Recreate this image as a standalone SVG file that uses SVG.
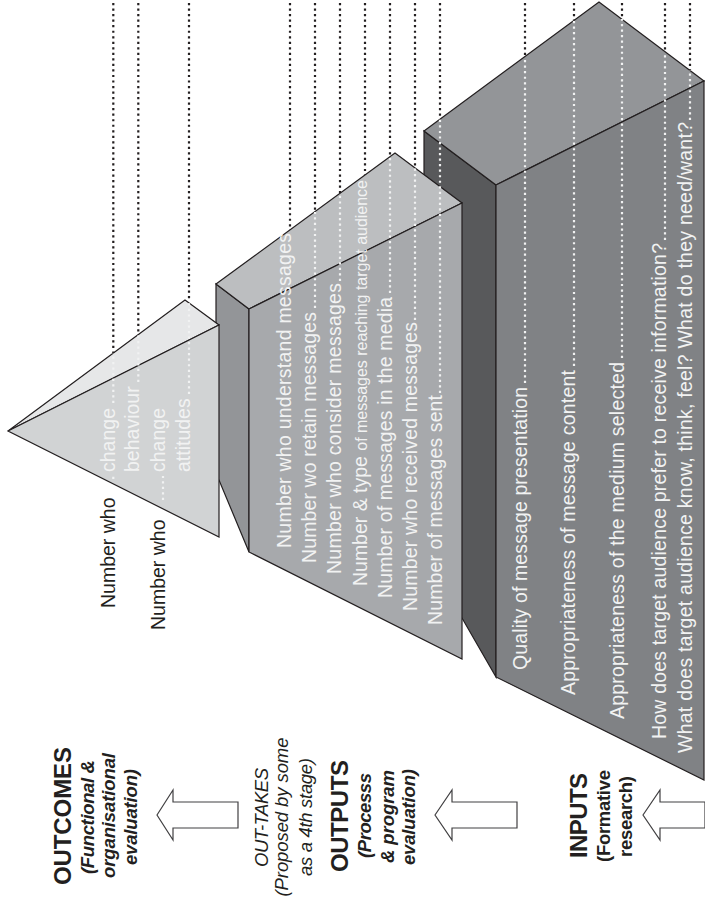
<svg xmlns="http://www.w3.org/2000/svg" width="705" height="900" viewBox="0 0 705 900">
<style>
text{font-family:"Liberation Sans",Arial,sans-serif}
.s{stroke:#231f20;stroke-width:1.2;stroke-linejoin:miter}
.w{fill:#f1f2f2;font-size:19.5px}
.b{fill:#231f20;font-size:19.5px}
.h{fill:#231f20;font-size:24px;font-weight:bold;text-anchor:middle}
.i{fill:#231f20;font-size:18.5px;font-weight:bold;font-style:italic;text-anchor:middle}
.r{fill:#231f20;font-size:18.5px;font-weight:bold;text-anchor:middle}
.o{fill:#231f20;font-size:18.5px;font-style:italic;text-anchor:middle}
.dk{stroke:#231f20;stroke-width:2.2;stroke-dasharray:2.2 3.33;fill:none}
.dw{stroke:#f1f2f2;stroke-width:2.2;stroke-dasharray:2.2 3.33;fill:none}
.arr{fill:#fff;stroke:#414042;stroke-width:1.2}
</style>
<rect width="705" height="900" fill="#fff"/>
<g id="inputs">
<polygon class="s" fill="#58595b" points="424,131 496,185 496,677 462,618 424,618"/>
<polygon class="s" fill="#939598" points="424,131 599,2 704,81 496,185"/>
<polygon class="s" fill="#808285" points="496,185 704,81 704,780 496,677"/>
</g>
<g id="outputs">
<polygon class="s" fill="#939598" points="216,284 249,309 249,552 219,480 216,480"/>
<polygon class="s" fill="#bcbec0" points="216,284 395,153 462,203 249,309"/>
<polygon class="s" fill="#a7a9ac" points="249,309 462,203 462,659 249,552"/>
</g>
<g id="outcomes">
<polygon class="s" fill="#e6e7e8" points="8,431 185,300 219,325"/>
<polygon class="s" fill="#d1d3d4" points="8,431 219,325 219,537"/>
</g>
<g id="connectors">
<path class="dk" d="M113.3 3V353M138.3 3V335M189 3V300M290 3V230M315 3V212M340 3V193M365 3V175M390 3V157M415 3V168M440 3V119M525 3V57M574 3V20M622 3V19M665 3V52M690 3V70"/>
<path class="dw" d="M113.3 403V353M138.3 382V335M189 394V303M315 308V212M340 281V193M390 293V157M415 320V168M440 393V119M525 383V57M574 366V20M622 358V19M665 240V52M690 120V70M113.3 479V475M163 500V476"/>
</g>
<g id="labels-outcomes">
<text class="b" transform="translate(115,608) rotate(-90)">Number who</text>
<text class="b" transform="translate(165,630) rotate(-90)">Number who</text>
<text class="w" transform="translate(115,472) rotate(-90)">change</text>
<text class="w" transform="translate(139,472) rotate(-90)">behaviour</text>
<text class="w" transform="translate(165,472) rotate(-90)">change</text>
<text class="w" transform="translate(190,472) rotate(-90)">attitudes</text>
</g>
<g id="labels-outputs">
<text class="w" textLength="315" transform="translate(291,548) rotate(-90)">Number who understand messages</text>
<text class="w" textLength="251" transform="translate(316,563) rotate(-90)">Number wo retain messages</text>
<text class="w" textLength="291" transform="translate(341,574) rotate(-90)">Number who consider messages</text>
<text class="w" textLength="406" transform="translate(367,586) rotate(-90)">Number &amp; type <tspan font-size="16">of messages reaching target audience</tspan></text>
<text class="w" textLength="301" transform="translate(392,598) rotate(-90)">Number of messages in the media</text>
<text class="w" textLength="289" transform="translate(417,611) rotate(-90)">Number who received messages</text>
<text class="w" textLength="230" transform="translate(442,625) rotate(-90)">Number of messages sent</text>
</g>
<g id="labels-inputs">
<text class="w" textLength="283" transform="translate(527,670) rotate(-90)">Quality of message presentation</text>
<text class="w" textLength="325" transform="translate(575,695) rotate(-90)">Appropriateness of message content</text>
<text class="w" textLength="357" transform="translate(624,719) rotate(-90)">Appropriateness of the medium selected</text>
<text class="w" textLength="496" transform="translate(666,739) rotate(-90)">How does target audience prefer to receive information?</text>
<text class="w" textLength="631" transform="translate(692,753) rotate(-90)">What does target audience know, think, feel? What do they need/want?</text>
</g>
<g id="outcomes-head">
<text class="h" textLength="138" transform="translate(71,816) rotate(-90)">OUTCOMES</text>
<text class="i" textLength="114" transform="translate(94,817) rotate(-90)">(Functional &amp;</text>
<text class="i" textLength="125" transform="translate(115,815.5) rotate(-90)">organisational</text>
<text class="i" textLength="96" transform="translate(137,817) rotate(-90)">evaluation)</text>
<polygon class="arr" points="157,815 173,790 173,802 238,802 238,828 173,828 173,840"/>
</g>
<g id="outtakes-head">
<text class="o" textLength="99" transform="translate(268,817.5) rotate(-90)">OUT-TAKES</text>
<text class="o" textLength="159" transform="translate(288,817) rotate(-90)">(Proposed by some</text>
<text class="o" textLength="118" transform="translate(312,817) rotate(-90)">as a 4th stage)</text>
</g>
<g id="outputs-head">
<text class="h" textLength="112" transform="translate(348,816) rotate(-90)">OUTPUTS</text>
<text class="i" textLength="85" transform="translate(371,815.5) rotate(-90)">(Processs</text>
<text class="i" textLength="93" transform="translate(394,816.5) rotate(-90)">&amp; program</text>
<text class="i" textLength="96" transform="translate(415,817) rotate(-90)">evaluation)</text>
<polygon class="arr" points="435,815 452,790 452,802 517,802 517,828 452,828 452,840"/>
</g>
<g id="inputs-head">
<text class="h" textLength="85" transform="translate(587,815.5) rotate(-90)">INPUTS</text>
<text class="r" textLength="92" transform="translate(610,816) rotate(-90)">(Formative</text>
<text class="r" textLength="81" transform="translate(632,816.5) rotate(-90)">research)</text>
<polygon class="arr" points="643,815 660,790 660,802 705,802 705,828 660,828 660,840"/>
</g>
</svg>
